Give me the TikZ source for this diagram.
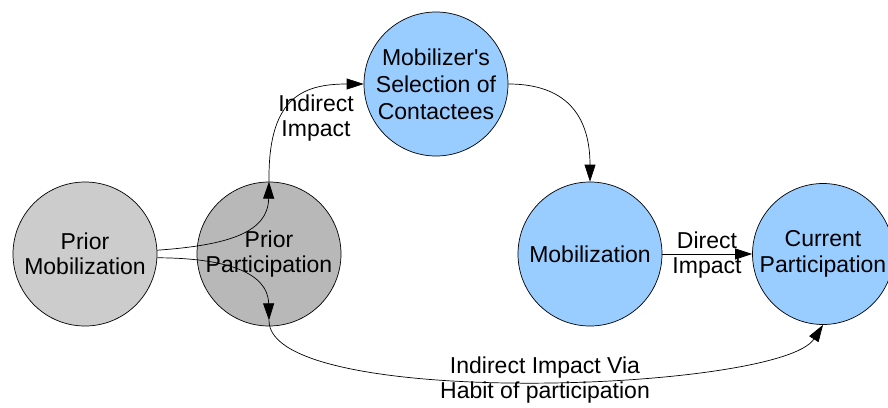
\documentclass[tikz,border=0pt]{standalone}
\usepackage{fontspec}
\setmainfont{Liberation Sans}
\usetikzlibrary{arrows.meta}
\definecolor{lightblue}{HTML}{99CCFF}
\definecolor{pmgray}{HTML}{CCCCCC}
\definecolor{ppgray}{HTML}{B8B8B8}
\begin{document}
\begin{tikzpicture}[x=1pt,y=-1pt,
  circ/.style={circle,draw=black,line width=0.7pt,inner sep=0pt,minimum size=144pt,align=center,font=\fontsize{23}{25.5}\selectfont},
  conn/.style={line width=0.7pt,-{Triangle[length=17pt,width=11pt]}},
  lbl/.style={align=center,inner sep=0pt,font=\fontsize{23}{25}\selectfont}]
\useasboundingbox (0,0) rectangle (888,407);
\node[circ,fill=pmgray] (pm) at (85,254) {Prior\\Mobilization};
\node[circ,fill=ppgray] (pp) at (269,254) {Prior\\Participation};
\node[circ,fill=lightblue,font=\fontsize{23}{27}\selectfont] (ms) at (436,84) {Mobilizer\textquotesingle s\\Selection of\\Contactees};
\node[circ,fill=lightblue] (mob) at (590,254) {Mobilization};
\node[circ,fill=lightblue,minimum size=141pt] (cp) at (823,254) {Current\\Participation};
\coordinate (ppb) at ([yshift=6pt]pp.south);
\draw[conn] (pm.3) .. controls (230,245) and (268,232) .. (pp.north);
\draw[conn] (pp.north) .. controls (268,100) and (300,84) .. (ms.west);
\draw[conn] (pm.-3) .. controls (225,258) and (268,272) .. (ppb);
\draw[conn] (ppb) .. controls (268,410) and (780,392) .. (cp.south);
\draw[conn] (ms.east) .. controls (570,84) and (590,120) .. (mob.north);
\draw[conn] (mob.east) -- (cp.west);
\node[lbl] (l1) at (316,118) {Indirect\\Impact};
\node[lbl] (l2) at (707,255) {Direct\\Impact};
\node[lbl] (l3) at (545,380) {Indirect Impact Via\\Habit of participation};
\end{tikzpicture}
\end{document}
